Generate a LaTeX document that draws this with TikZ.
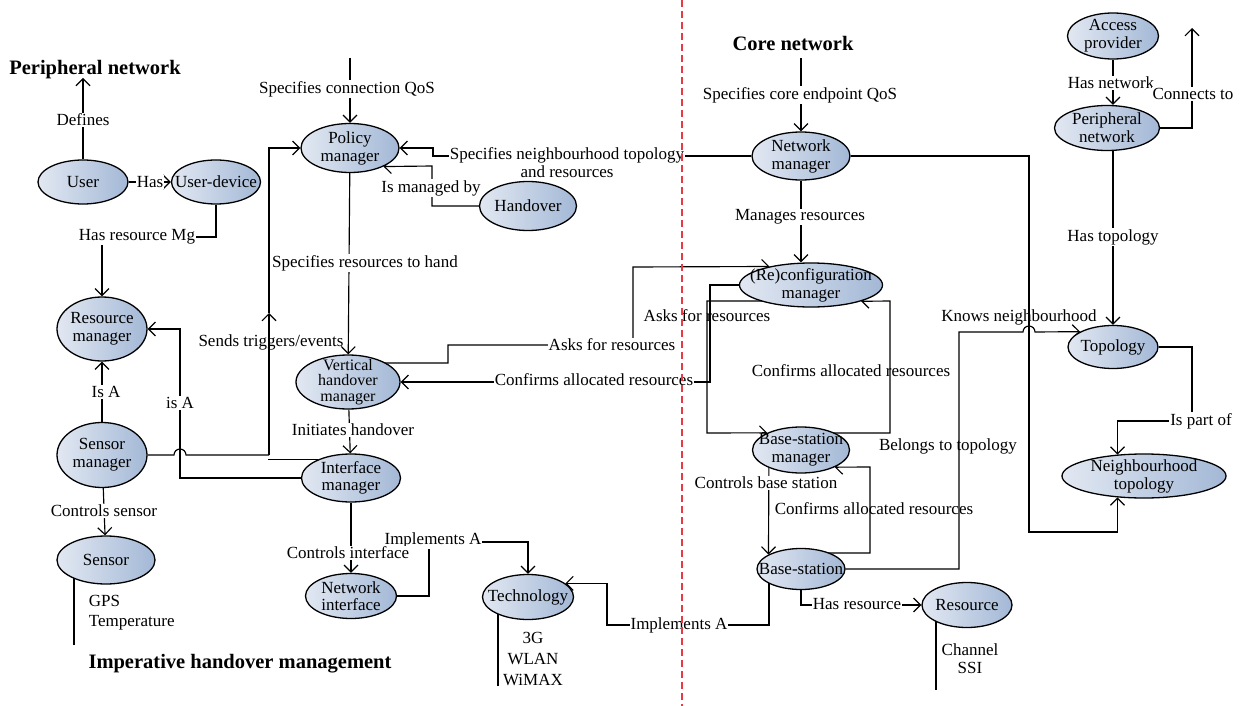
\documentclass[tikz,border=0pt]{standalone}
\usepackage{fontspec}
\setmainfont{Liberation Serif}
\usetikzlibrary{arrows.meta,shapes.geometric,calc,backgrounds}
\definecolor{shadeL}{RGB}{226,232,242}
\definecolor{shadeR}{RGB}{163,184,214}
\definecolor{divider}{RGB}{232,58,66}

\begin{document}
\begin{tikzpicture}[x=1pt, y=-1pt, >={Straight Barb[length=7pt,width=14pt]}, line width=1.15pt,
      every node/.style={font=\fontsize{17}{18}\selectfont},
      link/.style={draw=black,line width=1.15pt},
      concept/.style 2 args={ellipse,draw=black,line width=1.3pt,left color=shadeL,right color=shadeR,
        align=center,inner sep=-30pt,minimum width=#1,minimum height=#2},
      relation/.style={fill=white,inner sep=1pt,align=center},
      crossing/.style={inner sep=1pt,align=center},
      heading/.style={font=\fontsize{20.5}{22}\selectfont\bfseries}]
    \useasboundingbox (0,0) rectangle (1243,706);
      \node[heading] at (95,70) (tPeripheral) {Peripheral network};
      \node[heading] at (793,43) (tCore) {Core network};
      \node[heading] at (240,664) (tImperative) {Imperative handover management};
    \node[relation] at (83,120) (lDefines) {Defines};
    \node[relation] at (150,182) (lHas) {Has};
    \node[relation] at (137,237) (lHasResMg) {Has resource Mg};
    \node[relation] at (106,392) (lIsA) {Is A};
    \node[relation] at (180,403) (lIsAIf) {is A};
    \node[relation] at (104,511) (lCtrlSensor) {Controls sensor};
    \node[relation] at (347,89) (lConnQos) {Specifies connection QoS};
    \node[relation] at (431,188) (lManagedBy) {Is managed by};
    \node[relation] at (567,163) (lNeighb) {Specifies neighbourhood topology\\and resources};
    \node[relation] at (365,263) (lResHand) {Specifies resources to hand};
    \node[crossing] at (271,342) (lTriggers) {Sends triggers/events};
    \node[relation] at (612,345) (lAsks) {Asks for resources};
    \node[relation] at (594,380) (lConfirms) {Confirms allocated resources};
    \node[relation] at (353,430) (lInitiates) {Initiates handover};
    \node[relation] at (433,540) (lImplNi) {Implements A};
    \node[relation] at (348,553) (lCtrlIf) {Controls interface};
    \node[relation] at (679,625) (lImplBs) {Implements A};
    \node[relation] at (800,95) (lCoreQos) {Specifies core endpoint QoS};
    \node[relation] at (800,217) (lManages) {Manages resources};
    \node[crossing] at (707,316) (lAsksBsm) {Asks for resources};
    \node[crossing] at (851,371) (lConfRcm) {Confirms allocated resources};
    \node[relation] at (766,483) (lCtrlBs) {Controls base station};
    \node[crossing] at (874,509) (lConfBsm) {Confirms allocated resources};
    \node[relation] at (857,604) (lHasResource) {Has resource};
    \node[crossing] at (948,446) (lBelongs) {Belongs to topology};
    \node[crossing] at (1019,317) (lKnows) {Knows neighbourhood};
    \node[relation] at (1111,83) (lHasNet) {Has network};
    \node[relation] at (1193,94) (lConnects) {Connects to};
    \node[relation] at (1113,237) (lHasTopo) {Has topology};
    \node[relation] at (1201,421) (lPartOf) {Is part of};
    \node[align=left,anchor=west,font=\fontsize{17}{20}\selectfont] at (85,613) (sensorList) {GPS\\Temperature};
    \node[align=center,font=\fontsize{17}{21}\selectfont] at (533,659) (techList) {3G\\WLAN\\WiMAX};
    \node[align=center] at (970,659) (resList) {Channel\\SSI};
    \node[concept={90}{44}] at (83,182) (user) {User};
    \node[concept={89}{44}] at (216,182) (device) {User-device};
    \node[concept={90}{64}] at (102,329) (resmgr) {Resource\\manager};
    \node[concept={90}{65}] at (102,455) (sensmgr) {Sensor\\manager};
    \node[concept={98}{48}] at (106,560) (sensor) {Sensor};
    \node[concept={98}{49}] at (350,148) (policy) {Policy\\manager};
    \node[concept={97}{49}] at (528,206) (handover) {Handover};
    \node[concept={104}{54},font=\fontsize{16}{15.5}\selectfont] at (348,382) (vertical) {Vertical\\handover\\manager};
    \node[concept={99}{48},font=\fontsize{17}{17}\selectfont] at (351,478) (iface) {Interface\\manager};
    \node[concept={91}{45},font=\fontsize{17}{17}\selectfont] at (351,596) (netif) {Network\\interface};
    \node[concept={91}{45}] at (528,597) (tech) {Technology};
    \node[concept={98}{48}] at (801,156) (netmgr) {Network\\manager};
    \node[concept={143}{44}] at (811,285) (reconf) {(Re)configuration\\manager};
    \node[concept={97}{46}] at (801,450) (bsmgr) {Base-station\\manager};
    \node[concept={88}{41}] at (801,569) (bstation) {Base-station};
    \node[concept={90}{45}] at (967,605) (resource) {Resource};
    \node[concept={91}{46}] at (1113,36) (access) {Access\\provider};
    \node[concept={105}{45}] at (1107,128) (periph) {Peripheral\\network};
    \node[concept={90}{43}] at (1113,347) (topology) {Topology};
    \node[concept={164}{44}] at (1144,476) (neighb) {Neighbourhood\\topology};
    \begin{pgfonlayer}{background}
      \coordinate (cDefines) at (83,78);
      \coordinate (cConnQos) at (350,58);
      \coordinate (cCoreQos) at (801,58);
      \coordinate (cConnects) at (1192,28);
    \draw[link,->] (user) -- (cDefines);
    \draw[link,->] (user) -- (device);
    \draw[link,->] (device.south) |- (102,237) -- (resmgr.north);
    \draw[link,->] (sensmgr) -- (resmgr);
    \draw[link,->] (sensmgr) -- (sensor);
    \draw[link,->] (iface.west) -| (180,329) -- (resmgr.east);
    \draw[link] (sensmgr.east) -- (174,455) arc[start angle=180,end angle=0,radius=6pt] -- (269,455);
    \draw[link,->] (269,455) -- (269,313);
    \draw[link,->] (269,313) |- (policy.west);
    \draw[link] (iface.150) -- ++(-50,0);
    \draw[link,->] (cConnQos) -- (policy);
    \draw[link,->] (handover.west) -| (432,166) -- (policy.-29);
    \draw[link,->] (netmgr.west) -- (433,156) |- (policy.east);
    \draw[link,->] (policy) -- (vertical);
    \draw[link,->] (vertical) -- (iface);
    \draw[link,->] (iface) -- (netif);
    \draw[link,->] (netif.east) -| (429,542) -| (tech.north);
    \draw[link,->] ($(bstation.center)+(-32,0)$) |- (607,625) |- (tech.20);
    \draw[link] ($(tech.center)+(-30,0)$) -- ++(0,89);
    \draw[link] ($(sensor.center)+(-32,0)$) -- ++(0,85);
    \draw[link] ($(resource.center)+(-31,0)$) -- ++(0,85);
    \draw[link,->] (cCoreQos) -- (netmgr);
    \draw[link,->] (netmgr.south) -- (netmgr.south |- reconf.north);
    \draw[link,->] ($(vertical.center)+(0,-19)$) -| (448,345) -| (633,267) -- (reconf.156);
    \draw[link,->] (reconf.center) -| (710,382) -- (vertical.east);
    \draw[link,->] ($(reconf.center)+(0,16)$) -| (707,433) -- (bsmgr.153);
    \draw[link,->] ($(bsmgr.center)+(0,-17)$) -| (890,301) -- (reconf.-18);
    \draw[link,->] ($(bsmgr.center)+(-32,0)$) -- (bstation.156);
    \draw[link,->] ($(bstation.center)+(0,-16)$) -| (870,467) -- (bsmgr.-27);
    \draw[link,->] (bstation.south) |- (resource.west);
    \draw[link,->] (bstation.east) -| (959,332) -- (1023,332) arc[start angle=180,end angle=0,radius=6pt] -- (topology.155);
    \draw[link,->] (netmgr.east) -| (1029,532) -| (neighb.-141);
    \draw[link,->] (access.south) -- (access.south |- periph.north);
    \draw[link,->] (periph.east) -| (cConnects);
    \draw[link,->] (topology.north |- periph.south) -- (topology.north);
    \draw[link,->] (topology.east) -| (1192,421) -| (neighb.141);
    \end{pgfonlayer}
    \draw[divider,line width=1.3pt,dash pattern=on 7pt off 4pt] (682,0) -- (682,706);
      \end{tikzpicture}
\end{document}
